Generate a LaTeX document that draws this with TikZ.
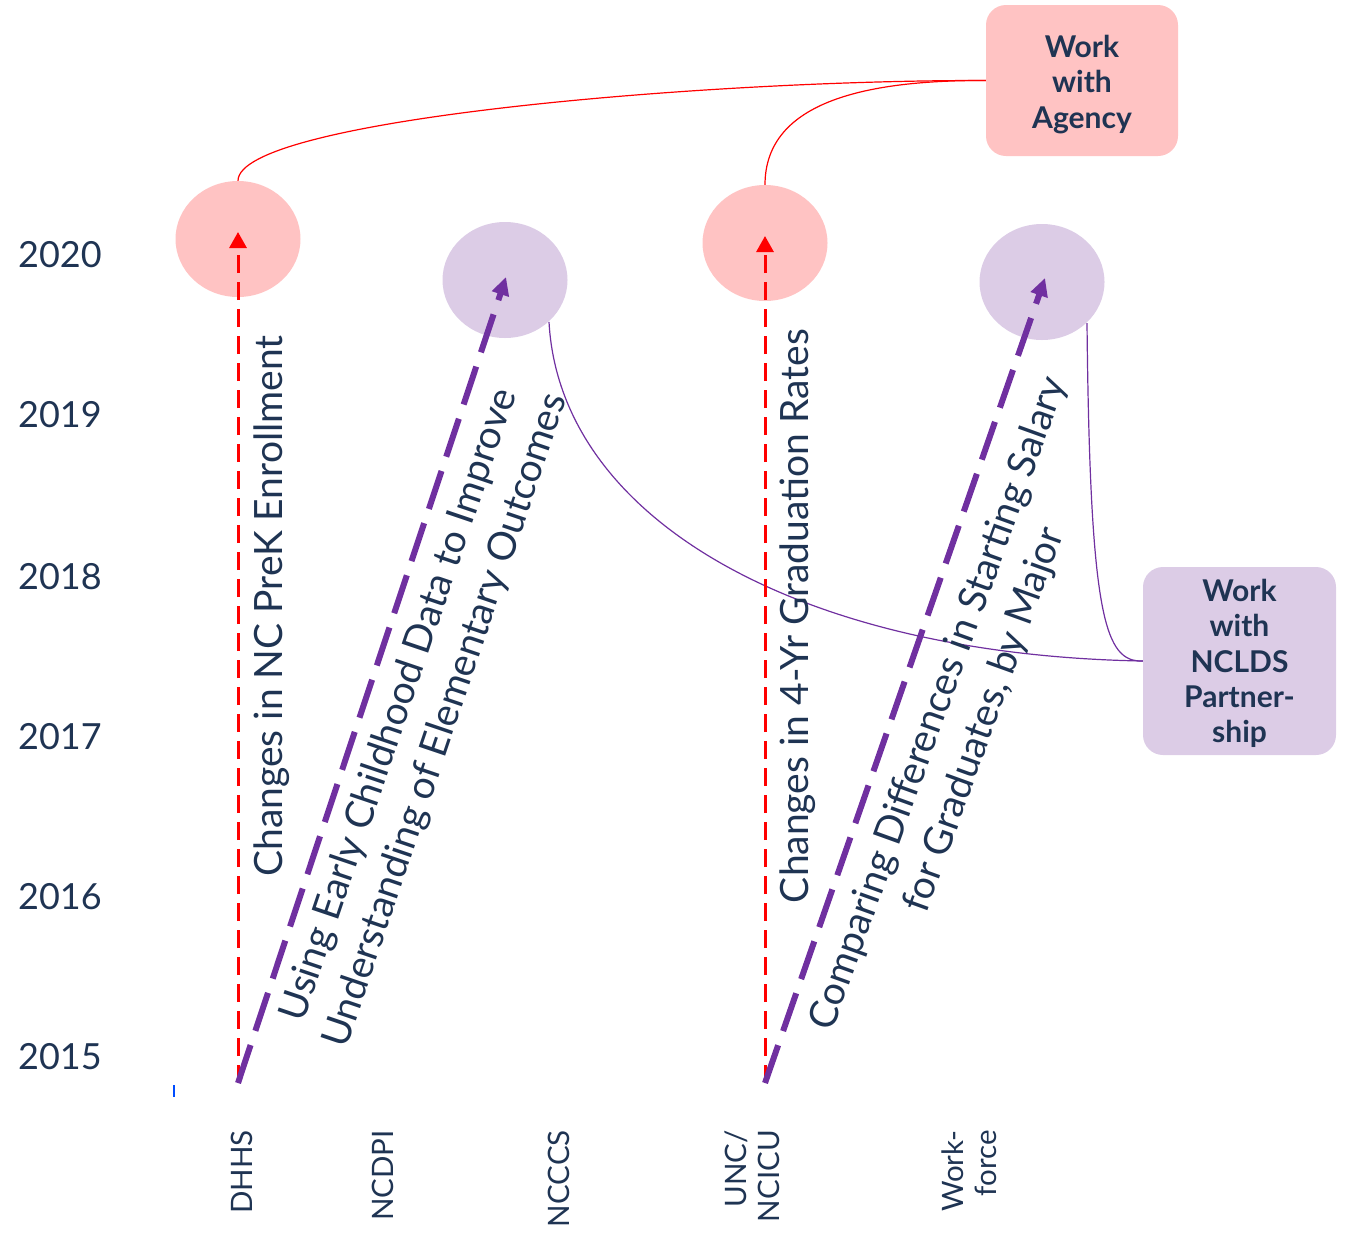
\documentclass[tikz,border=0pt]{standalone}
\usepackage{fontspec}
\setmainfont{Lato}
\usetikzlibrary{shapes.geometric,arrows.meta}
\definecolor{navy}{HTML}{1F3453}
\definecolor{pinkfill}{HTML}{FFC3C3}
\definecolor{lilac}{HTML}{DCCCE6}
\definecolor{redline}{HTML}{FF0000}
\definecolor{purp}{HTML}{7030A0}
\begin{document}
\begin{tikzpicture}[x=1pt,y=-1pt,
  year/.style={anchor=west,text=navy,font=\fontsize{36}{43}\selectfont,inner sep=0},
  bubble/.style={ellipse,minimum width=125,minimum height=116,inner sep=0},
  pinkbub/.style={bubble,fill=pinkfill},
  lilacbub/.style={bubble,fill=lilac},
  agency/.style={rounded corners=20,minimum width=#1,text=navy,align=center,inner sep=0,
     font=\fontsize{30}{35.3}\selectfont\bfseries},
  vlabel/.style={text=navy,font=\fontsize{39}{49}\selectfont,inner sep=0,align=center},
  orglabel/.style={text=navy,font=\fontsize{29.5}{33}\selectfont,inner sep=0,rotate=90,anchor=east,align=right},
  redarrow/.style={draw=redline,line width=3,dash pattern=on 18pt off 9pt,-{Triangle[length=16pt,width=17pt]}},
  purparrow/.style={draw=purp,line width=6,dash pattern=on 40pt off 15pt,-{Triangle[length=18pt,width=17pt]}},
  redlink/.style={draw=redline,line width=1.2},
  purplink/.style={draw=purp,line width=1.2}
]
\useasboundingbox (0,0) rectangle (1351,1232);

% years
\node[year] (y2020) at (18,255) {2020};
\node[year] (y2019) at (18,415) {2019};
\node[year] (y2018) at (18,577) {2018};
\node[year] (y2017) at (18,737) {2017};
\node[year] (y2016) at (18,897) {2016};
\node[year] (y2015) at (18,1057) {2015};

% bubbles
\node[pinkbub] (e1) at (238,239) {};
\node[lilacbub] (e2) at (505,280) {};
\node[pinkbub] (e3) at (765,243) {};
\node[lilacbub] (e4) at (1042,282) {};

% boxes
\node[agency=192,minimum height=151,fill=pinkfill] (ag) at (1082,80.5) {\rule{0pt}{30pt}Work\\with\\Agency};
\node[agency=193,minimum height=188,fill=lilac] (nc) at (1239.5,661) {\rule{0pt}{27pt}Work\\with\\NCLDS\\Partner-\\ship};

% links
\draw[redlink] (e1.north) .. controls (238,120) and (700,80) .. (ag.west);
\draw[redlink] (e3.north) .. controls (765,100) and (870,80) .. (ag.west);
\coordinate (p2) at (549,322);
\coordinate (p4) at (1087,323);
\draw[purplink] (p2) .. controls (560,520) and (800,655) .. (nc.west);
\draw[purplink] (p4) .. controls (1090,620) and (1105,662) .. (nc.west);

% start points and tips
\coordinate (s1) at (238,1083);
\coordinate (s2) at (765,1083);
\coordinate (t1) at (238,232);
\coordinate (t2) at (506,277);
\coordinate (t3) at (765,236);
\coordinate (t4) at (1045,278);

\draw[redarrow] (s1) -- (t1);
\draw[redarrow] (s2) -- (t3);
\draw[purparrow] (s1) -- (t2);
\draw[purparrow] (s2) -- (t4);

% labels
\node[vlabel,rotate=90] (l1) at (272,606) {Changes in NC PreK Enrollment};
\node[vlabel,rotate=90] (l3) at (798,616) {Changes in 4-Yr Graduation Rates};
\node[vlabel,rotate=71.3] (l2) at (423,713) {Using Early Childhood Data to Improve\\Understanding of Elementary Outcomes};
\node[vlabel,rotate=70.2] (l4) at (962,712) {Comparing Differences in Starting Salary\\for Graduates, by Major};

% org labels
\node[orglabel] (o1) at (242,1130) {DHHS};
\node[orglabel] (o2) at (383,1130) {NCDPI};
\node[orglabel] (o3) at (559,1130) {NCCCS};
\node[orglabel] (o4) at (752,1130) {UNC/\\NCICU};
\node[orglabel] (o5) at (969,1130) {Work-\\force};

\draw[blue!70!cyan,line width=1.5] (174,1085) -- (174,1097);
\end{tikzpicture}
\end{document}
